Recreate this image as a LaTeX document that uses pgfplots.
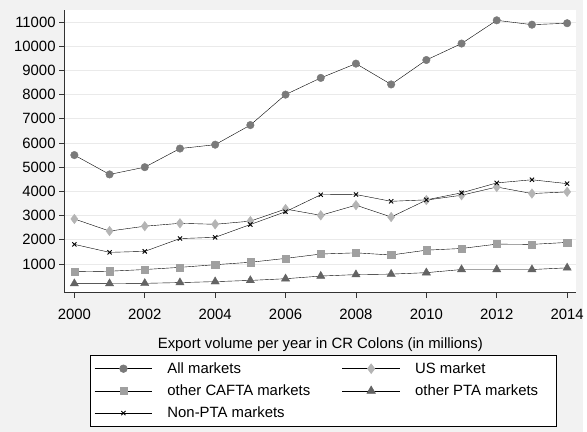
\documentclass[border=0pt]{standalone}
\usepackage{pgfplots}
\pgfplotsset{compat=1.18}
\usepackage{fontspec}
\setmainfont{Liberation Sans}
\definecolor{bg}{HTML}{F2F2F2}
\definecolor{gridc}{HTML}{EAEAEA}
\definecolor{cAll}{HTML}{7A7A7A}
\definecolor{cUS}{HTML}{B4B4B4}
\definecolor{cCAF}{HTML}{A0A0A0}
\definecolor{cPTA}{HTML}{636363}
\definecolor{lnc}{HTML}{1A1A1A}
\begin{document}
\begin{tikzpicture}
\fill[bg] (0pt,0pt) rectangle (587pt,435pt);
\begin{axis}[
  at={(65pt,140pt)}, anchor=south west,
  scale only axis, width=515.7pt, height=285pt,
  xmin=1999.72, xmax=2014.26, ymin=-190, ymax=11500,
  axis x line*=bottom, axis y line*=left,
  axis line style={color=black!80, line width=0.8pt},
  axis background/.style={fill=white},
  xtick={2000,2002,...,2014},
  ytick={1000,2000,...,11000},
  scaled y ticks=false, scaled x ticks=false,
  tick align=outside, major tick length=5.5pt,
  tick style={color=black!80, line width=0.8pt},
  ymajorgrids, grid style={color=gridc, line width=0.9pt},
  /pgf/number format/assume math mode=true,
  /pgf/number format/1000 sep={},
  tick label style={font=\fontsize{15}{17}\selectfont},
  xticklabel style={yshift=-7pt},
  xlabel={Export volume per year in CR Colons (in millions)},
  xlabel style={font=\fontsize{15}{17}\selectfont, yshift=-12pt},
  every plot/.append style={color=lnc, line width=0.9pt},
  legend columns=2,
  legend cell align=left,
  legend style={at={(axis description cs:0.0498,-0.221)}, anchor=north west,
    draw=black, line width=0.7pt, fill=white,
    font=\fontsize{15}{17}\selectfont,
    inner xsep=4pt, inner ysep=5pt, row sep=6pt,
    /tikz/every odd column/.append style={column sep=13pt},
    /tikz/every even column/.append style={column sep=30pt}},
  legend image code/.code={\draw[mark repeat=2,mark phase=2,#1] plot coordinates {(0pt,0pt) (29pt,0pt) (58pt,0pt)};},
]
\addplot[mark=*, mark size=3.8pt, mark options={fill=cAll, draw=cAll}] coordinates {
(2000,5500) (2001,4700) (2002,5000) (2003,5770) (2004,5930) (2005,6740) (2006,8000)
(2007,8690) (2008,9280) (2009,8420) (2010,9430) (2011,10110) (2012,11070) (2013,10890) (2014,10950)};
\addlegendentry{All markets}
\addplot[mark=diamond*, mark size=4.8pt, mark options={fill=cUS, draw=cUS}] coordinates {
(2000,2860) (2001,2360) (2002,2560) (2003,2680) (2004,2640) (2005,2770) (2006,3270)
(2007,3010) (2008,3430) (2009,2940) (2010,3640) (2011,3840) (2012,4180) (2013,3910) (2014,3980)};
\addlegendentry{US market}
\addplot[mark=square*, mark size=3.6pt, mark options={fill=cCAF, draw=cCAF}] coordinates {
(2000,680) (2001,700) (2002,770) (2003,860) (2004,970) (2005,1070) (2006,1230)
(2007,1410) (2008,1460) (2009,1370) (2010,1570) (2011,1640) (2012,1820) (2013,1810) (2014,1890)};
\addlegendentry{other CAFTA markets}
\addplot[mark=triangle*, mark size=4.8pt, mark options={fill=cPTA, draw=cPTA}] coordinates {
(2000,190) (2001,190) (2002,200) (2003,230) (2004,270) (2005,320) (2006,390)
(2007,500) (2008,560) (2009,580) (2010,640) (2011,770) (2012,770) (2013,770) (2014,840)};
\addlegendentry{other PTA markets\hspace*{12pt}}
\addplot[mark=x, mark size=3pt, mark options={draw=black, line width=0.9pt}] coordinates {
(2000,1810) (2001,1480) (2002,1520) (2003,2050) (2004,2100) (2005,2630) (2006,3160)
(2007,3860) (2008,3870) (2009,3590) (2010,3650) (2011,3940) (2012,4350) (2013,4480) (2014,4320)};
\addlegendentry{Non-PTA markets}
\end{axis}
\end{tikzpicture}
\end{document}
